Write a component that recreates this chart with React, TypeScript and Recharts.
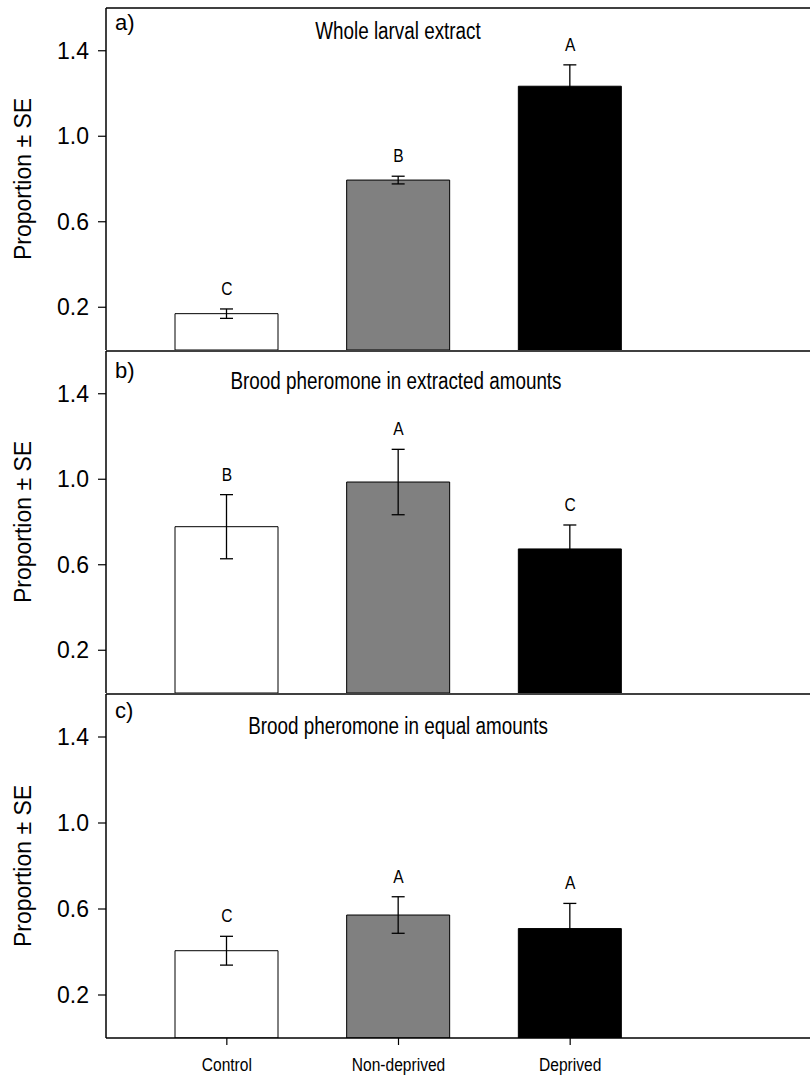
import {
  Bar,
  Cell,
  ComposedChart,
  ErrorBar,
  LabelList,
  Line,
  ReferenceLine,
  XAxis,
  YAxis,
} from 'recharts'

const CATEGORIES = ['Control', 'Non-deprived', 'Deprived']
const FILLS = ['#ffffff', '#808080', '#000000']
const Y_TICKS = [0.2, 0.6, 1.0, 1.4]

const WHOLE_MEAN = [0.17, 0.795, 1.234]
const WHOLE_SE = [0.022, 0.018, 0.1]
const WHOLE_LETTERS = ['C', 'B', 'A']

const EXTRACTED_MEAN = [0.778, 0.987, 0.674]
const EXTRACTED_SE = [0.15, 0.153, 0.112]
const EXTRACTED_LETTERS = ['B', 'A', 'C']

const EQUAL_MEAN = [0.406, 0.572, 0.509]
const EQUAL_SE = [0.067, 0.085, 0.117]
const EQUAL_LETTERS = ['C', 'A', 'A']

const SANS = "'Liberation Sans', Arial, sans-serif"
const CHART_W = 840
// the reference uses a narrow face; squeeze Liberation Sans to match
const SQUEEZE = 0.82

function NarrowText({ x, y, size, children }: { x: number; y: number; size: number; children: string }) {
  return (
    <text
      transform={`translate(${x}, ${y}) scale(${SQUEEZE}, 1)`}
      x={0}
      y={0}
      textAnchor="middle"
      fill="#000"
      fontSize={size}
      fontFamily={SANS}
    >
      {children}
    </text>
  )
}

function XTick(props: any) {
  const { x, y, payload } = props
  return <NarrowText x={x} y={y + 13} size={19}>{payload.value}</NarrowText>
}

interface PanelProps {
  mean: number[]
  se: number[]
  letters: string[]
  top: number
  height: number
  marginTop: number
  marginBottom: number
  showLabels?: boolean
}

function Panel({ mean, se, letters, top, height, marginTop, marginBottom, showLabels }: PanelProps) {
  const data = CATEGORIES.map((name, i) => ({
    name,
    mean: mean[i],
    se: se[i],
    top: mean[i] + se[i],
    letter: letters[i],
  }))

  return (
    <div style={{ position: 'absolute', left: 0, top, width: CHART_W, height }}>
      <ComposedChart
        width={CHART_W}
        height={height}
        data={data}
        margin={{ top: marginTop, right: 10, left: 0, bottom: marginBottom }}
      >
        <XAxis
          dataKey="name"
          padding={{ left: 35, right: 174 }}
          axisLine={{ stroke: '#000', strokeWidth: 1.5 }}
          tickLine={showLabels ? { stroke: '#000', strokeWidth: 1.2 } : false}
          tick={showLabels ? <XTick /> : false}
          tickSize={7}
          tickMargin={13}
          height={showLabels ? 40 : 0}
          interval={0}
        />
        <YAxis
          type="number"
          domain={[0, 1.6]}
          ticks={Y_TICKS}
          interval={0}
          allowDataOverflow
          width={106}
          tickSize={8}
          tickMargin={9}
          tickFormatter={(v: number) => v.toFixed(1)}
          axisLine={{ stroke: '#000', strokeWidth: 1.5 }}
          tickLine={{ stroke: '#000', strokeWidth: 1.2 }}
          tick={{ fill: '#000', fontSize: 23, fontFamily: SANS }}
          label={{
            content: (props: any) => {
              const vb = props.viewBox || {}
              const cy = (vb.y ?? 0) + (vb.height ?? 0) / 2
              return (
                <text
                  x={31}
                  y={cy}
                  transform={`rotate(-90, 31, ${cy})`}
                  textAnchor="middle"
                  fill="#000"
                  fontSize={23}
                  fontFamily={SANS}
                >
                  Proportion ± SE
                </text>
              )
            },
          }}
        />
        <ReferenceLine y={1.6} stroke="#000" strokeWidth={1.5} />
        <Bar dataKey="mean" barSize={103} stroke="#000" strokeWidth={1} isAnimationActive={false}>
          {data.map((d, i) => (
            <Cell key={d.name} fill={FILLS[i]} />
          ))}
          <ErrorBar dataKey="se" width={6.5} stroke="#000" strokeWidth={1.3} />
        </Bar>
        <Line
          dataKey="top"
          stroke="none"
          dot={false}
          activeDot={false}
          isAnimationActive={false}
        >
          <LabelList
            dataKey="letter"
            content={(p: any) => (
              <NarrowText x={p.x} y={p.y - 14} size={19}>
                {String(p.value)}
              </NarrowText>
            )}
          />
        </Line>
      </ComposedChart>
    </div>
  )
}

export default function App() {
  return (
    <div
      style={{
        position: 'fixed',
        left: 0,
        top: 0,
        width: 810,
        height: 1078,
        overflow: 'hidden',
        background: '#fff',
      }}
    >
      <Panel mean={WHOLE_MEAN} se={WHOLE_SE} letters={WHOLE_LETTERS} top={0} height={352} marginTop={8} marginBottom={2} />
      <Panel mean={EXTRACTED_MEAN} se={EXTRACTED_SE} letters={EXTRACTED_LETTERS} top={340} height={355} marginTop={11} marginBottom={2} />
      <Panel mean={EQUAL_MEAN} se={EQUAL_SE} letters={EQUAL_LETTERS} top={684} height={394} marginTop={10} marginBottom={0} showLabels />
      <svg
        width={810}
        height={1078}
        style={{ position: 'absolute', left: 0, top: 0, pointerEvents: 'none' }}
      >
        <g fill="#000" fontFamily={SANS} fontSize={22}>
          <text x={115} y={30}>a)</text>
          <text x={115} y={378}>b)</text>
          <text x={115} y={718}>c)</text>
        </g>
        <NarrowText x={398} y={39} size={23}>Whole larval extract</NarrowText>
        <NarrowText x={396} y={389} size={23}>Brood pheromone in extracted amounts</NarrowText>
        <NarrowText x={398} y={734} size={23}>Brood pheromone in equal amounts</NarrowText>
      </svg>
    </div>
  )
}
